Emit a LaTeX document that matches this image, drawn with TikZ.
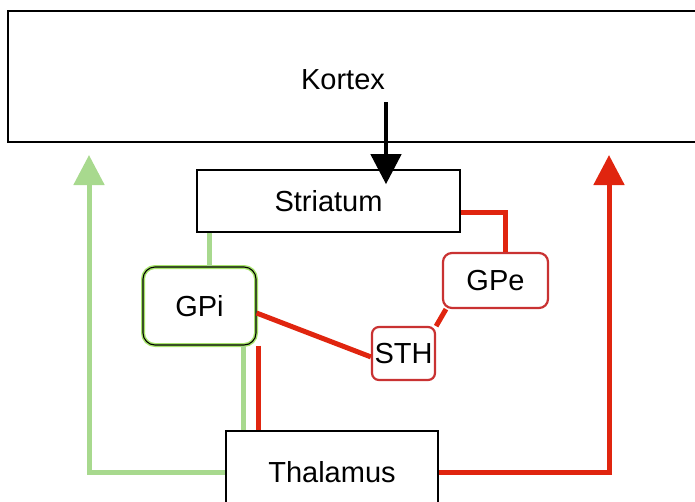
\documentclass[tikz,border=0pt]{standalone}
\usepackage{fontspec}
\setmainfont{Liberation Sans}
\usetikzlibrary{arrows.meta}
\definecolor{pathgreen}{HTML}{A8D98E}
\definecolor{rimgreen}{HTML}{A6E36A}
\definecolor{pathred}{HTML}{E0250F}
\definecolor{rimred}{HTML}{C93232}

\begin{document}
\begin{tikzpicture}[x=1pt, y=-1pt,
    every node/.style={font=\fontsize{29}{34}\selectfont},
    box/.style={draw, line width=1.6pt, inner sep=0pt},
    gbox/.style={draw=black, line width=1.1pt, rounded corners=12pt, inner sep=0pt,
        preaction={draw=rimgreen, line width=4pt}},
    rbox/.style={draw=rimred, line width=2.2pt, rounded corners=9pt, inner sep=0pt},
    gline/.style={draw=pathgreen, line width=5pt},
    rline/.style={draw=pathred, line width=5pt},
    tip/.style={-{Triangle[width=30pt,length=30pt]}}]
    \path[use as bounding box, clip] (0,0) rectangle (695,501);

    % boxes
    \node[box, line width=2.5pt, minimum width=712pt, minimum height=131pt] (kortex) at (364,76.5) {};
    \node (kortexlabel) at (343,80) {Kortex};
    \node[box, minimum width=263pt, minimum height=62pt] (striatum) at (328.5,201) {Striatum};
    \node[gbox, minimum width=113pt, minimum height=78pt] (gpi) at (199.5,306) {GPi};
    \node[rbox, minimum width=105pt, minimum height=55pt] (gpe) at (495.5,280.5) {GPe};
    \node[rbox, rounded corners=7pt, minimum width=63pt, minimum height=53pt] (sth) at (403.5,353.5) {STH};
    \node[box, minimum width=212pt, minimum height=82pt] (thalamus) at (332,472) {Thalamus};

    \coordinate (kin) at (386,102);
    \coordinate (gx) at (209,0);
    \coordinate (gdown) at (243,0);
    \coordinate (rdown) at (258,0);
    \coordinate (rs) at (505,212);
    \coordinate (gtip) at (89,155);
    \coordinate (rtip) at (609,155);

    % direct path
    \draw[gline] (striatum.south -| gx) -- (gpi.north -| gx);
    \draw[gline] (gpi.south -| gdown) -- (thalamus.north -| gdown);
    \draw[gline, tip] (thalamus.west) -| (gtip);

    % indirect path
    \draw[rline] (striatum.east |- rs) -| (gpe.north -| rs);
    \draw[rline] (gpe.210) -- (sth.40);
    \draw[rline] (gpi.-7) -- (sth.186);
    \draw[rline] (gpi.south -| rdown) -- (thalamus.north -| rdown);
    \draw[rline, tip] (thalamus.east) -| (rtip);

    \draw[line width=4.5pt, tip] (kin) -- ([yshift=-15pt]striatum.north -| kin);
\end{tikzpicture}
\end{document}
